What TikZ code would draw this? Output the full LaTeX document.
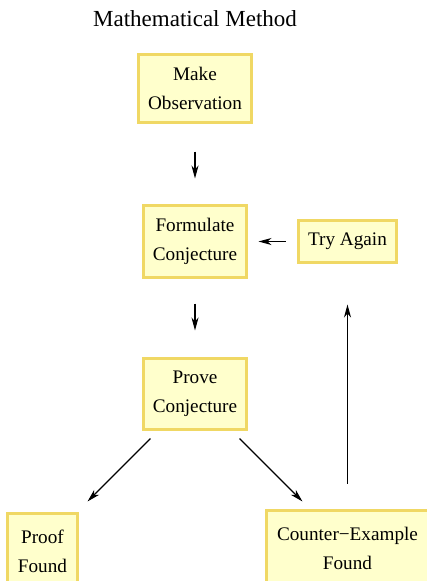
\documentclass[tikz,border=0pt]{standalone}
\usepackage{fontspec}
\setmainfont{Liberation Serif}
\usepackage{tikz}
\usetikzlibrary{arrows.meta}

\definecolor{boxfill}{RGB}{255,255,204}
\definecolor{boxline}{RGB}{240,216,100}

\tikzset{
  stepbox/.style={draw=boxline, fill=boxfill, line width=3pt, align=center, inner sep=0pt},
  flow/.style={-{Stealth[length=13pt,width=7pt,inset=4pt]}, line width=1.1pt}
}

\begin{document}
\begin{tikzpicture}[x=1pt, y=-1pt, font=\fontsize{19.2}{28.5}\selectfont]
  \useasboundingbox (0,0) rectangle (427,581);
  \node (title) at (195,19) {\fontsize{23}{27}\selectfont Mathematical Method};
  \node [stepbox, minimum width=113pt, minimum height=68pt] (observe) at (195,88.5) {Make\\Observation};
  \node [stepbox, minimum width=103pt, minimum height=72pt] (formulate) at (195,241.5) {Formulate\\Conjecture};
  \node [stepbox, minimum width=98pt, minimum height=42pt] (again) at (347.5,241.5) {Try Again};
  \node [stepbox, minimum width=103pt, minimum height=71pt] (prove) at (195,394) {Prove\\Conjecture};
  \node [stepbox, minimum width=70pt, minimum height=76pt] (proof) at (42.5,551.5) {Proof\\Found};
  \node [stepbox, minimum width=162pt, minimum height=76pt] (counter) at (347.5,548.5) {Counter−Example\\Found};
  %\draw [red] (0,0) rectangle (427,581);
  \draw [flow, shorten <=27.5pt, shorten >=25.5pt] (observe.south) -- (formulate.north);
  \draw [flow, shorten <=24.5pt, shorten >=26.5pt] (formulate.south) -- (prove.north);
  \draw [flow, shorten <=11.5pt, shorten >=10.5pt] (again.west) -- (formulate.east);
  \draw [flow, shorten <=25.5pt, shorten >=40.5pt] (counter.north) -- (again.south);
  \draw [flow] ([shift={(8.5,7.5)}]prove.south west) -- ([shift={(8.5,-10.5)}]proof.north east);
  \draw [flow] ([shift={(-8.5,7.5)}]prove.south east) -- ([shift={(37.5,-7.5)}]counter.north west);
\end{tikzpicture}
\end{document}
